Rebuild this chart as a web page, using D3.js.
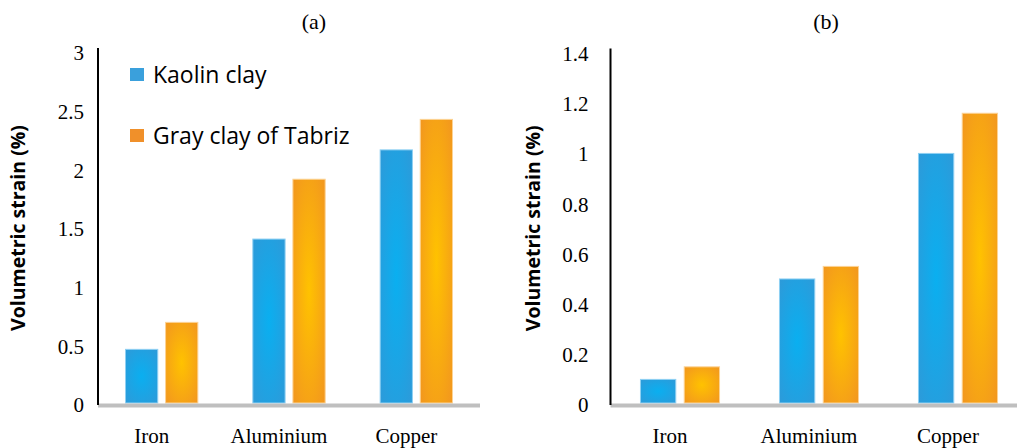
<!DOCTYPE html>
<html>
<head>
<meta charset="utf-8">
<script src="https://cdn.jsdelivr.net/npm/d3@7"></script>
<style>
  html, body { margin: 0; padding: 0; background: #ffffff; }
  svg { display: block; }
</style>
</head>
<body>
<svg id="chart" width="1017" height="448"></svg>
<script>
// Data
const categories = ["Iron", "Aluminium", "Copper"];
const seriesNames = ["Kaolin clay", "Gray clay of Tabriz"];
const kaolinA = [0.47, 1.41, 2.17];
const tabrizA = [0.70, 1.92, 2.43];
const kaolinB = [0.10, 0.50, 1.00];
const tabrizB = [0.15, 0.55, 1.16];
const ticksA = [0, 0.5, 1, 1.5, 2, 2.5, 3];
const ticksB = [0, 0.2, 0.4, 0.6, 0.8, 1, 1.2, 1.4];
const panelTitles = ["(a)", "(b)"];
const yTitle = "Volumetric strain (%)";

const svg = d3.select("#chart");
const defs = svg.append("defs");

// Bar fills: radial glow from the centre of each bar
function radial(id, inner, outer) {
  const g = defs.append("radialGradient").attr("id", id)
    .attr("cx", "50%").attr("cy", "50%").attr("r", "70%");
  g.append("stop").attr("offset", "0%").attr("stop-color", inner);
  g.append("stop").attr("offset", "100%").attr("stop-color", outer);
}
radial("gBlue", "#0aaff0", "#2d9ad9");
radial("gOrange", "#ffc200", "#f2961f");
const fills = ["url(#gBlue)", "url(#gOrange)"];
const strokes = ["#8fd0f3", "#fcd394"];
const legendColors = ["#3aa0dc", "#f0902a"];

const serif = "'Liberation Serif', 'Times New Roman', serif";
const sans = "'Open Sans', 'Noto Sans', sans-serif";

function panel(cfg) {
  const { x0, x1, yTop, yBase, max, ticks, a, b, title, titleX, yTitleX, labelPad } = cfg;
  const g = svg.append("g");

  const x = d3.scaleBand().domain(categories).range([x0, x1])
    .paddingInner(0.424).paddingOuter(0.212);
  const xs = d3.scaleBand().domain(seriesNames).range([0, x.bandwidth()])
    .paddingInner(0.17).paddingOuter(0);
  const y = d3.scaleLinear().domain([0, max]).range([yBase, yTop]);

  // y tick labels
  const yAxis = d3.axisLeft(y).tickValues(ticks).tickSize(0).tickPadding(labelPad)
    .tickFormat(d => String(d));
  const ya = g.append("g").attr("transform", `translate(${x0},0)`).call(yAxis);
  ya.select(".domain").remove();
  ya.selectAll("text").attr("font-family", serif).attr("font-size", 21)
    .attr("fill", "#000").attr("dy", "0.38em");

  // bars
  const rows = categories.map((c, i) => ({ c, vals: [a[i], b[i]] }));
  const grp = g.selectAll("g.cat").data(rows).join("g")
    .attr("class", "cat")
    .attr("transform", d => `translate(${x(d.c)},0)`);
  grp.selectAll("rect").data(d => d.vals.map((v, k) => ({ v, k })))
    .join("rect")
    .attr("x", d => xs(seriesNames[d.k]) + 0.5)
    .attr("width", xs.bandwidth() - 1)
    .attr("y", d => y(d.v) + 0.5)
    .attr("height", d => y(0) - y(d.v) - 1.5)
    .attr("fill", d => fills[d.k])
    .attr("stroke", d => strokes[d.k])
    .attr("stroke-width", 1);

  // baseline
  g.append("line").attr("x1", x0).attr("x2", Math.min(x1, 1017))
    .attr("y1", yBase + 1.5).attr("y2", yBase + 1.5)
    .attr("stroke", "#bfbfbf").attr("stroke-width", 4);

  // vertical axis line
  g.append("line").attr("x1", x0).attr("x2", x0)
    .attr("y1", yTop - 4).attr("y2", yBase + 1)
    .attr("stroke", "#000").attr("stroke-width", 2);

  // category labels, set slightly left of each group's centre
  const xAxis = d3.axisBottom(x).tickSize(0).tickPadding(0);
  const xa = g.append("g").attr("transform", `translate(0,${yBase})`).call(xAxis);
  xa.select(".domain").remove();
  xa.selectAll("text").attr("font-family", serif).attr("font-size", 21)
    .attr("fill", "#000").attr("dy", null).attr("y", 39).attr("x", -10);

  // panel title
  g.append("text").attr("x", titleX).attr("y", 29).attr("text-anchor", "middle")
    .attr("font-family", serif).attr("font-size", 22).attr("fill", "#000")
    .text(title);

  // axis title
  g.append("text")
    .attr("transform", `translate(${yTitleX},${(yTop + yBase) / 2}) rotate(-90)`)
    .attr("text-anchor", "middle").attr("dy", "0.35em")
    .attr("font-family", sans).attr("font-weight", "bold").attr("font-size", 19.5)
    .attr("fill", "#000").text(yTitle);
}

panel({ x0: 98, x1: 480, yTop: 52, yBase: 404, max: 3, ticks: ticksA,
        a: kaolinA, b: tabrizA, title: panelTitles[0], titleX: 314, yTitleX: 18, labelPad: 14 });
panel({ x0: 610.5, x1: 1027.5, yTop: 52.5, yBase: 404, max: 1.4, ticks: ticksB,
        a: kaolinB, b: tabrizB, title: panelTitles[1], titleX: 826, yTitleX: 533, labelPad: 22 });

// legend
const leg = svg.append("g").attr("transform", "translate(130,68)");
seriesNames.forEach((n, i) => {
  const row = leg.append("g").attr("transform", `translate(0,${i * 61})`);
  row.append("rect").attr("width", 14).attr("height", 13).attr("fill", legendColors[i]);
  row.append("text").attr("x", 23).attr("y", 6.5).attr("dy", "0.36em")
    .attr("font-family", sans).attr("font-size", 23).attr("fill", "#000").text(n);
});
</script>
</body>
</html>
